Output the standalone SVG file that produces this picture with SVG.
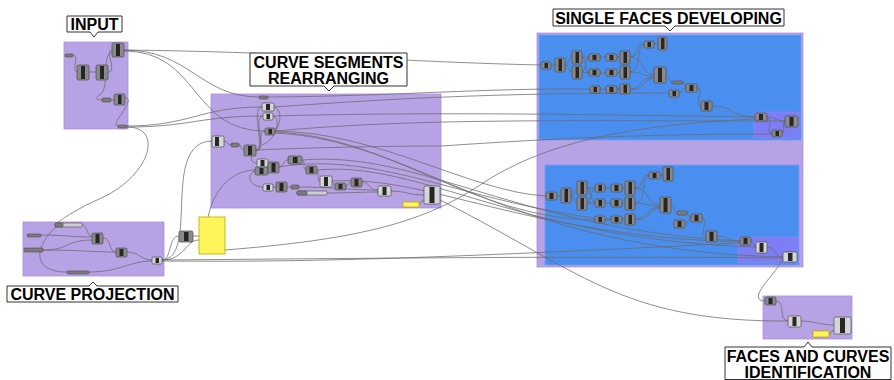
<svg xmlns="http://www.w3.org/2000/svg" width="894" height="380" viewBox="0 0 894 380">
<style>
.grp{fill:#b8a2e6;stroke:#a990dc;stroke-width:0.8}
.blue{fill:#4a8ff0;stroke:#6e9ff0;stroke-width:0.8}
.inner{fill:#7d7ef5;stroke:#8c8cf0;stroke-width:0.6}
.c{fill:#8a8a8a;stroke:#4a4a4a;stroke-width:0.7}
.cl{fill:#d6d6d6;stroke:#4a4a4a;stroke-width:0.7}
.k{fill:#262626}
.p{fill:#7c7c7c;stroke:#4a4a4a;stroke-width:0.6}
.pl{fill:#cfcfcf;stroke:#4a4a4a;stroke-width:0.6}
.y{fill:#fff55a;stroke:#b8a800;stroke-width:0.8}
.w{fill:none;stroke:#6a6a6a;stroke-width:0.85;opacity:0.9}
.lab{fill:#fff;stroke:#333;stroke-width:1}
.t{font-family:"Liberation Sans",Arial,sans-serif;font-weight:bold;font-size:16px;fill:#000;text-anchor:middle}
</style>

<!-- group backgrounds -->
<g id="grp-input"><rect class="grp" x="64" y="42" width="64" height="87"/></g>
<g id="grp-segments"><rect class="grp" x="211" y="94" width="230" height="114"/></g>
<g id="grp-faces">
<rect class="grp" x="537" y="33" width="266" height="234"/>
<rect class="blue" x="539" y="35" width="262" height="105"/>
<rect class="blue" x="545" y="165" width="254" height="100"/>
<rect class="inner" x="754" y="112" width="45" height="26"/>
<rect class="inner" x="738" y="237" width="60" height="26"/>
</g>
<g id="grp-projection"><rect class="grp" x="23" y="222" width="141" height="54"/></g>
<g id="grp-ident"><rect class="grp" x="763" y="296" width="89" height="43"/></g>

<!-- connectors -->
<g id="connectors">
<!-- INPUT internal -->
<path class="w" d="M73,55 C80,55 71,72 77,72"/>
<path class="w" d="M89,72 L96,72"/>
<path class="w" d="M108,72 C118,72 104,50 112,50"/>
<path class="w" d="M112,52 C100,56 112,90 98,96 C95,98 96,100 102,100"/>
<path class="w" d="M111,100 L114,100"/>
<path class="w" d="M125,98 C138,98 108,126 118,126"/>
<!-- INPUT out -->
<path class="w" d="M124,50 C300,52 400,62 541,65"/>
<path class="w" d="M124,50 C190,50 200,97 259,97"/>
<path class="w" d="M124,51 C200,51 190,131 265,131"/>
<path class="w" d="M127,126 C190,126 200,107 262,107"/>
<path class="w" d="M127,127 C190,127 200,116 263,116"/>
<path class="w" d="M127,127 C165,127 150,178 97,200 C75,210 60,220 55,225"/>
<!-- curve segments internal -->
<path class="w" d="M224,141 C228,141 227,145 231,145"/>
<path class="w" d="M239,145 C242,145 240,150 244,150"/>
<path class="w" d="M256,150 C266,150 250,107 262,107"/>
<path class="w" d="M256,150 C268,150 252,116 263,116"/>
<path class="w" d="M256,151 C266,151 256,131 265,131"/>
<path class="w" d="M274,107 C284,110 280,128 272,135"/>
<path class="w" d="M273,116 C282,118 276,140 262,145"/>
<path class="w" d="M252,156 C250,160 252,163 257,163"/>
<path class="w" d="M255,171 C245,175 250,187 263,187"/>
<path class="w" d="M279,167 C284,167 283,160 288,160"/>
<path class="w" d="M302,160 C306,160 302,170 306,170"/>
<path class="w" d="M317,170 C320,170 316,181 320,181"/>
<path class="w" d="M332,181 C334,181 333,186 335,186"/>
<path class="w" d="M346,186 C349,186 348,182 351,182"/>
<path class="w" d="M362,182 C370,182 370,191 378,191"/>
<path class="w" d="M273,187 L276,187"/>
<path class="w" d="M287,187 L291,187"/>
<path class="w" d="M299,187 C330,187 350,190 378,190"/>
<path class="w" d="M327,193 C350,193 360,192 378,192"/>
<path class="w" d="M391,191 C405,191 410,195 424,195"/>
<path class="w" d="M419,204 C421,204 422,200 424,200"/>
<path class="w" d="M256,150 C300,148 380,146 441,146"/>
<!-- curve segments -> single faces -->
<path class="w" d="M268,97 C400,96 480,88 590,89"/>
<path class="w" d="M274,107 C400,98 500,93 669,93"/>
<path class="w" d="M273,116 C420,112 560,114 755,117"/>
<path class="w" d="M275,131 C420,118 560,121 785,121"/>
<path class="w" d="M441,146 C560,138 650,134 772,134"/>
<path class="w" d="M275,131 C380,132 470,192 546,196"/>
<path class="w" d="M275,132 C390,136 470,218 595,220"/>
<path class="w" d="M279,167 C380,150 470,205 611,220"/>
<path class="w" d="M302,160 C420,150 520,230 740,241"/>
<path class="w" d="M317,170 C420,160 520,240 756,247"/>
<path class="w" d="M275,133 C420,140 500,250 783,257"/>
<path class="w" d="M332,181 C430,175 520,235 740,242"/>
<path class="w" d="M440,200 C580,270 620,322 788,321"/>
<!-- top blue internal -->
<path class="w" d="M551,65 L555,65"/>
<path class="w" d="M565,65 C569,65 568,57 572,57"/>
<path class="w" d="M565,65 C569,65 568,72 572,72"/>
<path class="w" d="M582,57 C586,57 585,73 589,73"/>
<path class="w" d="M582,72 C586,72 585,57 589,57"/>
<path class="w" d="M582,57 L589,57"/>
<path class="w" d="M582,72 L589,73"/>
<path class="w" d="M600,57 L606,57"/>
<path class="w" d="M600,73 L606,73"/>
<path class="w" d="M617,57 L620,57"/>
<path class="w" d="M617,73 L620,72"/>
<path class="w" d="M630,57 C640,57 634,44 644,44"/>
<path class="w" d="M630,57 C645,57 640,75 654,75"/>
<path class="w" d="M630,72 C642,72 640,76 654,76"/>
<path class="w" d="M630,72 C642,72 636,44 644,45"/>
<path class="w" d="M654,44 L658,44"/>
<path class="w" d="M600,89 L606,89"/>
<path class="w" d="M617,89 L620,89"/>
<path class="w" d="M630,89 C642,89 640,77 654,77"/>
<path class="w" d="M630,90 C645,90 645,78 654,78"/>
<path class="w" d="M666,75 C670,75 668,82 672,82"/>
<path class="w" d="M683,82 C685,82 684,88 686,88"/>
<path class="w" d="M679,93 C683,93 682,88 686,88"/>
<path class="w" d="M697,88 C705,88 693,106 701,106"/>
<path class="w" d="M712,106 C735,106 730,117 755,117"/>
<path class="w" d="M767,117 C775,117 777,121 785,121"/>
<path class="w" d="M767,118 C775,118 764,133 772,133"/>
<path class="w" d="M782,133 C786,133 781,121 785,122"/>
<!-- bottom blue internal -->
<path class="w" d="M557,196 L561,196"/>
<path class="w" d="M571,196 C575,196 573,188 577,188"/>
<path class="w" d="M571,196 C575,196 573,203 577,203"/>
<path class="w" d="M587,188 C591,188 591,203 595,203"/>
<path class="w" d="M587,203 C591,203 591,188 595,188"/>
<path class="w" d="M587,188 L595,188"/>
<path class="w" d="M587,203 L595,203"/>
<path class="w" d="M605,188 L611,188"/>
<path class="w" d="M605,203 L611,203"/>
<path class="w" d="M622,188 L625,188"/>
<path class="w" d="M622,203 L625,203"/>
<path class="w" d="M635,188 C645,188 639,175 649,175"/>
<path class="w" d="M635,188 C650,188 645,205 660,205"/>
<path class="w" d="M635,203 C648,203 646,206 660,206"/>
<path class="w" d="M635,203 C648,203 640,176 649,176"/>
<path class="w" d="M660,175 L663,175"/>
<path class="w" d="M605,219 L611,219"/>
<path class="w" d="M622,219 L625,219"/>
<path class="w" d="M635,219 C648,219 646,207 660,207"/>
<path class="w" d="M635,220 C650,220 650,208 660,208"/>
<path class="w" d="M671,205 C674,205 674,213 677,213"/>
<path class="w" d="M687,213 C689,213 689,218 691,218"/>
<path class="w" d="M685,224 C688,224 688,218 691,218"/>
<path class="w" d="M702,218 C710,218 698,236 706,236"/>
<path class="w" d="M717,236 C728,236 728,241 740,241"/>
<path class="w" d="M751,241 C754,241 753,247 756,247"/>
<path class="w" d="M767,247 C776,247 774,257 783,257"/>
<!-- projection internal -->
<path class="w" d="M82,225 C88,225 86,236 92,236"/>
<path class="w" d="M41,235 C65,235 70,237 92,237"/>
<path class="w" d="M43,250 C70,250 65,240 92,240"/>
<path class="w" d="M43,250 C80,250 90,252 116,252"/>
<path class="w" d="M103,238 C112,238 108,252 116,252"/>
<path class="w" d="M127,252 C140,252 140,260 152,260"/>
<path class="w" d="M89,272 C120,272 130,261 152,261"/>
<path class="w" d="M57,226 C35,245 30,272 67,272"/>
<!-- projection out -->
<path class="w" d="M162,260 C172,260 168,236 179,236"/>
<path class="w" d="M193,236 L199,236"/>
<path class="w" d="M162,260 C185,260 185,240 199,240"/>
<path class="w" d="M162,260 C200,258 160,142 212,141"/>
<path class="w" d="M162,260 C400,258 600,256 783,258"/>
<path class="w" d="M162,261 C300,262 400,260 740,243"/>
<path class="w" d="M208,217 C215,185 235,170 256,170"/>
<path class="w" d="M225,250 C350,240 420,225 480,185 C540,145 620,125 756,119"/>
<!-- to identification -->
<path class="w" d="M783,259 C775,275 745,300 765,301"/>
<path class="w" d="M776,301 C786,301 778,321 788,321"/>
<path class="w" d="M801,321 C815,321 820,325 834,325"/>
<path class="w" d="M829,334 C831,334 832,330 834,330"/>
</g>

<!-- INPUT nodes -->
<g id="n-i1"><rect class="p" x="65" y="54" width="8" height="3" rx="1.2"/></g>
<g id="n-i2"><rect class="c" x="112" y="43" width="12" height="14" rx="1.5"/><rect class="k" x="116" y="44" width="4" height="12"/></g>
<g id="n-i3"><rect class="c" x="77" y="65" width="12" height="15" rx="1.5"/><rect class="k" x="81" y="66" width="4" height="13"/></g>
<g id="n-i4"><rect class="c" x="96" y="65" width="12" height="15" rx="1.5"/><rect class="k" x="100" y="66" width="4" height="13"/></g>
<g id="n-i5"><rect class="p" x="102" y="98" width="9" height="4" rx="1.2"/></g>
<g id="n-i6"><rect class="c" x="114" y="94" width="11" height="11" rx="1.5"/><rect class="k" x="118" y="95" width="3.5" height="9"/></g>
<g id="n-i7"><rect class="p" x="118" y="125" width="9" height="3" rx="1.2"/></g>

<!-- CURVE SEGMENTS nodes -->
<g id="n-s1"><rect class="p" x="259" y="96" width="9" height="3" rx="1.2"/></g>
<g id="n-s2"><rect class="cl" x="262" y="103" width="12" height="8" rx="1.5"/><rect class="k" x="266" y="104" width="4" height="6"/></g>
<g id="n-s3"><rect class="cl" x="263" y="113" width="10" height="7" rx="1.5"/><rect class="k" x="266.5" y="114" width="3.5" height="5"/></g>
<g id="n-s4"><rect class="c" x="265" y="128" width="10" height="7" rx="1.5"/><rect class="k" x="268.5" y="129" width="3.5" height="5"/></g>
<g id="n-s5"><rect class="cl" x="212" y="136" width="12" height="11" rx="1.5"/><rect class="k" x="215" y="137" width="4" height="9"/></g>
<g id="n-s6"><rect class="p" x="231" y="143" width="8" height="4" rx="1.2"/></g>
<g id="n-s7"><rect class="c" x="244" y="145" width="12" height="11" rx="1.5"/><rect class="k" x="248" y="146" width="4" height="9"/></g>
<g id="n-s8"><rect class="cl" x="257" y="159" width="11" height="8" rx="1.5"/><rect class="k" x="260.5" y="160" width="4" height="6"/></g>
<g id="n-s9"><rect class="c" x="255" y="167" width="13" height="8" rx="1.5"/><rect class="k" x="259.5" y="168" width="4" height="6"/></g>
<g id="n-s10"><rect class="c" x="268" y="162" width="11" height="11" rx="1.5"/><rect class="k" x="271.5" y="163" width="4" height="9"/></g>
<g id="n-s11"><rect class="c" x="288" y="156" width="14" height="8" rx="1.5"/><rect class="k" x="293" y="157" width="4.5" height="6"/></g>
<g id="n-s12"><rect class="c" x="306" y="166" width="11" height="8" rx="1.5"/><rect class="k" x="309.5" y="167" width="4" height="6"/></g>
<g id="n-s13"><rect class="cl" x="320" y="176" width="12" height="11" rx="1.5"/><rect class="k" x="324" y="177" width="4" height="9"/></g>
<g id="n-s14"><rect class="c" x="335" y="183" width="11" height="7" rx="1.5"/><rect class="k" x="338.5" y="184" width="4" height="5"/></g>
<g id="n-s15"><rect class="c" x="351" y="178" width="11" height="9" rx="1.5"/><rect class="k" x="354.5" y="179" width="4" height="7"/></g>
<g id="n-s16"><rect class="cl" x="263" y="184" width="10" height="7" rx="1.5"/><rect class="k" x="266.5" y="185" width="3.5" height="5"/></g>
<g id="n-s17"><rect class="c" x="276" y="182" width="11" height="10" rx="1.5"/><rect class="k" x="279.5" y="183" width="4" height="8"/></g>
<g id="n-s18"><rect class="p" x="291" y="185" width="8" height="4" rx="1.2"/></g>
<g id="n-s19"><rect class="pl" x="297" y="191" width="30" height="4" rx="1.2"/><rect class="p" x="297" y="191" width="10" height="4" rx="1.2"/></g>
<g id="n-s20"><rect class="cl" x="378" y="186" width="13" height="10" rx="1.5"/><rect class="k" x="382.5" y="187" width="4" height="8"/></g>
<g id="n-s21"><rect class="cl" x="424" y="186" width="16" height="18" rx="1.5"/><rect class="k" x="429.5" y="187" width="5" height="16"/></g>
<g id="n-s22"><rect class="y" x="403" y="202" width="16" height="5"/></g>

<!-- SINGLE FACES top -->
<g id="n-t1"><rect class="c" x="541" y="62" width="10" height="7" rx="1.5"/><rect class="k" x="544.5" y="63" width="3.5" height="5"/></g>
<g id="n-t2"><rect class="c" x="555" y="58" width="10" height="14" rx="1.5"/><rect class="k" x="558.5" y="59" width="3.5" height="12"/></g>
<g id="n-t3"><rect class="c" x="572" y="51" width="10" height="13" rx="1.5"/><rect class="k" x="575.5" y="52" width="3.5" height="11"/></g>
<g id="n-t4"><rect class="c" x="572" y="66" width="10" height="13" rx="1.5"/><rect class="k" x="575.5" y="67" width="3.5" height="11"/></g>
<g id="n-t5"><rect class="c" x="589" y="54" width="11" height="7" rx="1.5"/><rect class="k" x="592.5" y="55" width="4" height="5"/></g>
<g id="n-t6"><rect class="c" x="606" y="54" width="11" height="7" rx="1.5"/><rect class="k" x="609.5" y="55" width="4" height="5"/></g>
<g id="n-t7"><rect class="c" x="620" y="51" width="10" height="13" rx="1.5"/><rect class="k" x="623.5" y="52" width="3.5" height="11"/></g>
<g id="n-t8"><rect class="c" x="589" y="69" width="11" height="7" rx="1.5"/><rect class="k" x="592.5" y="70" width="4" height="5"/></g>
<g id="n-t9"><rect class="c" x="606" y="69" width="11" height="7" rx="1.5"/><rect class="k" x="609.5" y="70" width="4" height="5"/></g>
<g id="n-t10"><rect class="c" x="620" y="66" width="10" height="13" rx="1.5"/><rect class="k" x="623.5" y="67" width="3.5" height="11"/></g>
<g id="n-t11"><rect class="c" x="644" y="41" width="10" height="7" rx="1.5"/><rect class="k" x="647.5" y="42" width="3.5" height="5"/></g>
<g id="n-t12"><rect class="c" x="658" y="37" width="9" height="13" rx="1.5"/><rect class="k" x="661" y="38" width="3.5" height="11"/></g>
<g id="n-t13"><rect class="c" x="654" y="67" width="12" height="16" rx="1.5"/><rect class="k" x="658" y="68" width="4" height="14"/></g>
<g id="n-t14"><rect class="p" x="672" y="81" width="11" height="3" rx="1.2"/></g>
<g id="n-t15"><rect class="c" x="590" y="86" width="10" height="7" rx="1.5"/><rect class="k" x="593.5" y="87" width="3.5" height="5"/></g>
<g id="n-t16"><rect class="c" x="606" y="86" width="11" height="7" rx="1.5"/><rect class="k" x="609.5" y="87" width="4" height="5"/></g>
<g id="n-t17"><rect class="c" x="620" y="84" width="10" height="10" rx="1.5"/><rect class="k" x="623.5" y="85" width="3.5" height="8"/></g>
<g id="n-t18"><rect class="c" x="669" y="90" width="10" height="7" rx="1.5"/><rect class="k" x="672.5" y="91" width="3.5" height="5"/></g>
<g id="n-t19"><rect class="c" x="686" y="84" width="11" height="8" rx="1.5"/><rect class="k" x="689.5" y="85" width="4" height="6"/></g>
<g id="n-t20"><rect class="c" x="701" y="101" width="11" height="10" rx="1.5"/><rect class="k" x="704.5" y="102" width="4" height="8"/></g>
<g id="n-t21"><rect class="c" x="755" y="113" width="12" height="8" rx="1.5"/><rect class="k" x="759" y="114" width="4" height="6"/></g>
<g id="n-t22"><rect class="c" x="785" y="116" width="13" height="11" rx="1.5"/><rect class="k" x="789.5" y="117" width="4" height="9"/></g>
<g id="n-t23"><rect class="c" x="772" y="130" width="10" height="7" rx="1.5"/><rect class="k" x="775.5" y="131" width="3.5" height="5"/></g>

<!-- SINGLE FACES bottom -->
<g id="n-b1"><rect class="c" x="546" y="192" width="11" height="8" rx="1.5"/><rect class="k" x="549.5" y="193" width="4" height="6"/></g>
<g id="n-b2"><rect class="c" x="561" y="188" width="10" height="15" rx="1.5"/><rect class="k" x="564.5" y="189" width="3.5" height="13"/></g>
<g id="n-b3"><rect class="c" x="577" y="181" width="10" height="14" rx="1.5"/><rect class="k" x="580.5" y="182" width="3.5" height="12"/></g>
<g id="n-b4"><rect class="c" x="577" y="197" width="10" height="13" rx="1.5"/><rect class="k" x="580.5" y="198" width="3.5" height="11"/></g>
<g id="n-b5"><rect class="c" x="595" y="184" width="10" height="8" rx="1.5"/><rect class="k" x="598.5" y="185" width="3.5" height="6"/></g>
<g id="n-b6"><rect class="c" x="611" y="184" width="11" height="8" rx="1.5"/><rect class="k" x="614.5" y="185" width="4" height="6"/></g>
<g id="n-b7"><rect class="c" x="625" y="181" width="10" height="14" rx="1.5"/><rect class="k" x="628.5" y="182" width="3.5" height="12"/></g>
<g id="n-b8"><rect class="c" x="595" y="199" width="10" height="8" rx="1.5"/><rect class="k" x="598.5" y="200" width="3.5" height="6"/></g>
<g id="n-b9"><rect class="c" x="611" y="199" width="11" height="8" rx="1.5"/><rect class="k" x="614.5" y="200" width="4" height="6"/></g>
<g id="n-b10"><rect class="c" x="625" y="197" width="10" height="13" rx="1.5"/><rect class="k" x="628.5" y="198" width="3.5" height="11"/></g>
<g id="n-b11"><rect class="c" x="649" y="172" width="11" height="7" rx="1.5"/><rect class="k" x="652.5" y="173" width="4" height="5"/></g>
<g id="n-b12"><rect class="c" x="663" y="167" width="10" height="14" rx="1.5"/><rect class="k" x="666.5" y="168" width="3.5" height="12"/></g>
<g id="n-b13"><rect class="c" x="660" y="197" width="11" height="16" rx="1.5"/><rect class="k" x="663.5" y="198" width="4" height="14"/></g>
<g id="n-b14"><rect class="p" x="677" y="211" width="10" height="4" rx="1.2"/></g>
<g id="n-b15"><rect class="c" x="595" y="216" width="10" height="7" rx="1.5"/><rect class="k" x="598.5" y="217" width="3.5" height="5"/></g>
<g id="n-b16"><rect class="c" x="611" y="216" width="11" height="7" rx="1.5"/><rect class="k" x="614.5" y="217" width="4" height="5"/></g>
<g id="n-b17"><rect class="c" x="625" y="214" width="10" height="11" rx="1.5"/><rect class="k" x="628.5" y="215" width="3.5" height="9"/></g>
<g id="n-b18"><rect class="c" x="674" y="220" width="11" height="8" rx="1.5"/><rect class="k" x="677.5" y="221" width="4" height="6"/></g>
<g id="n-b19"><rect class="c" x="691" y="214" width="11" height="8" rx="1.5"/><rect class="k" x="694.5" y="215" width="4" height="6"/></g>
<g id="n-b20"><rect class="c" x="706" y="231" width="11" height="11" rx="1.5"/><rect class="k" x="709.5" y="232" width="4" height="9"/></g>
<g id="n-b21"><rect class="c" x="740" y="237" width="11" height="8" rx="1.5"/><rect class="k" x="743.5" y="238" width="4" height="6"/></g>
<g id="n-b22"><rect class="cl" x="756" y="242" width="11" height="11" rx="1.5"/><rect class="k" x="759.5" y="243" width="4" height="9"/></g>
<g id="n-b23"><rect class="cl" x="783" y="252" width="14" height="10" rx="1.5"/><rect class="k" x="788" y="253" width="4.5" height="8"/></g>

<!-- CURVE PROJECTION nodes -->
<g id="n-p1"><rect class="pl" x="55" y="223" width="27" height="4" rx="1.2"/><rect class="p" x="55" y="223" width="8" height="4" rx="1.2"/></g>
<g id="n-p2"><rect class="p" x="27" y="234" width="14" height="3" rx="1.2"/></g>
<g id="n-p3"><rect class="p" x="24" y="248" width="19" height="4" rx="1.2"/></g>
<g id="n-p4"><rect class="c" x="92" y="233" width="11" height="11" rx="1.5"/><rect class="k" x="95.5" y="234" width="4" height="9"/></g>
<g id="n-p5"><rect class="c" x="116" y="248" width="11" height="9" rx="1.5"/><rect class="k" x="119.5" y="249" width="4" height="7"/></g>
<g id="n-p6"><rect class="cl" x="152" y="257" width="10" height="7" rx="1.5"/><rect class="k" x="155.5" y="258" width="3.5" height="5"/></g>
<g id="n-p7"><rect class="p" x="67" y="271" width="22" height="3" rx="1.2"/></g>
<g id="n-p8"><rect class="c" x="179" y="231" width="14" height="11" rx="1.5"/><rect class="k" x="184" y="232" width="4.5" height="9"/></g>
<g id="n-p9"><rect class="y" x="199" y="217" width="26" height="37"/></g>

<!-- IDENTIFICATION nodes -->
<g id="n-f1"><rect class="c" x="765" y="297" width="11" height="8" rx="1.5"/><rect class="k" x="768.5" y="298" width="4" height="6"/></g>
<g id="n-f2"><rect class="cl" x="788" y="316" width="13" height="11" rx="1.5"/><rect class="k" x="792.5" y="317" width="4" height="9"/></g>
<g id="n-f3"><rect class="cl" x="834" y="317" width="17" height="17" rx="1.5"/><rect class="k" x="840" y="318" width="5" height="15"/></g>
<g id="n-f4"><rect class="y" x="813" y="331" width="16" height="6"/></g>

<!-- labels -->
<g id="label-input">
<path class="lab" d="M67,16 H122 V32 H98 L94,37 L90,32 H67 Z"/>
<text class="t" x="94.5" y="29.5">INPUT</text>
</g>
<g id="label-segments">
<path class="lab" d="M250,53 H407 V86 H334 L329,91 L324,86 H250 Z"/>
<text class="t" x="328.5" y="67.5">CURVE SEGMENTS<tspan x="328.5" dy="16">REARRANGING</tspan></text>
</g>
<g id="label-faces">
<path class="lab" d="M553,9 H784 V26 H675 L670,31 L665,26 H553 Z"/>
<text class="t" x="668.5" y="23.5">SINGLE FACES DEVELOPING</text>
</g>
<g id="label-projection">
<path class="lab" d="M7,286 H89 L93,282 L97,286 H178 V302 H7 Z"/>
<text class="t" x="92.5" y="299.5">CURVE PROJECTION</text>
</g>
<g id="label-ident">
<path class="lab" d="M725,347 H804 L808,342 L812,347 H891 V379.5 H725 Z"/>
<text class="t" x="808" y="361.5">FACES AND CURVES<tspan x="808" dy="16">IDENTIFICATION</tspan></text>
</g>
</svg>
